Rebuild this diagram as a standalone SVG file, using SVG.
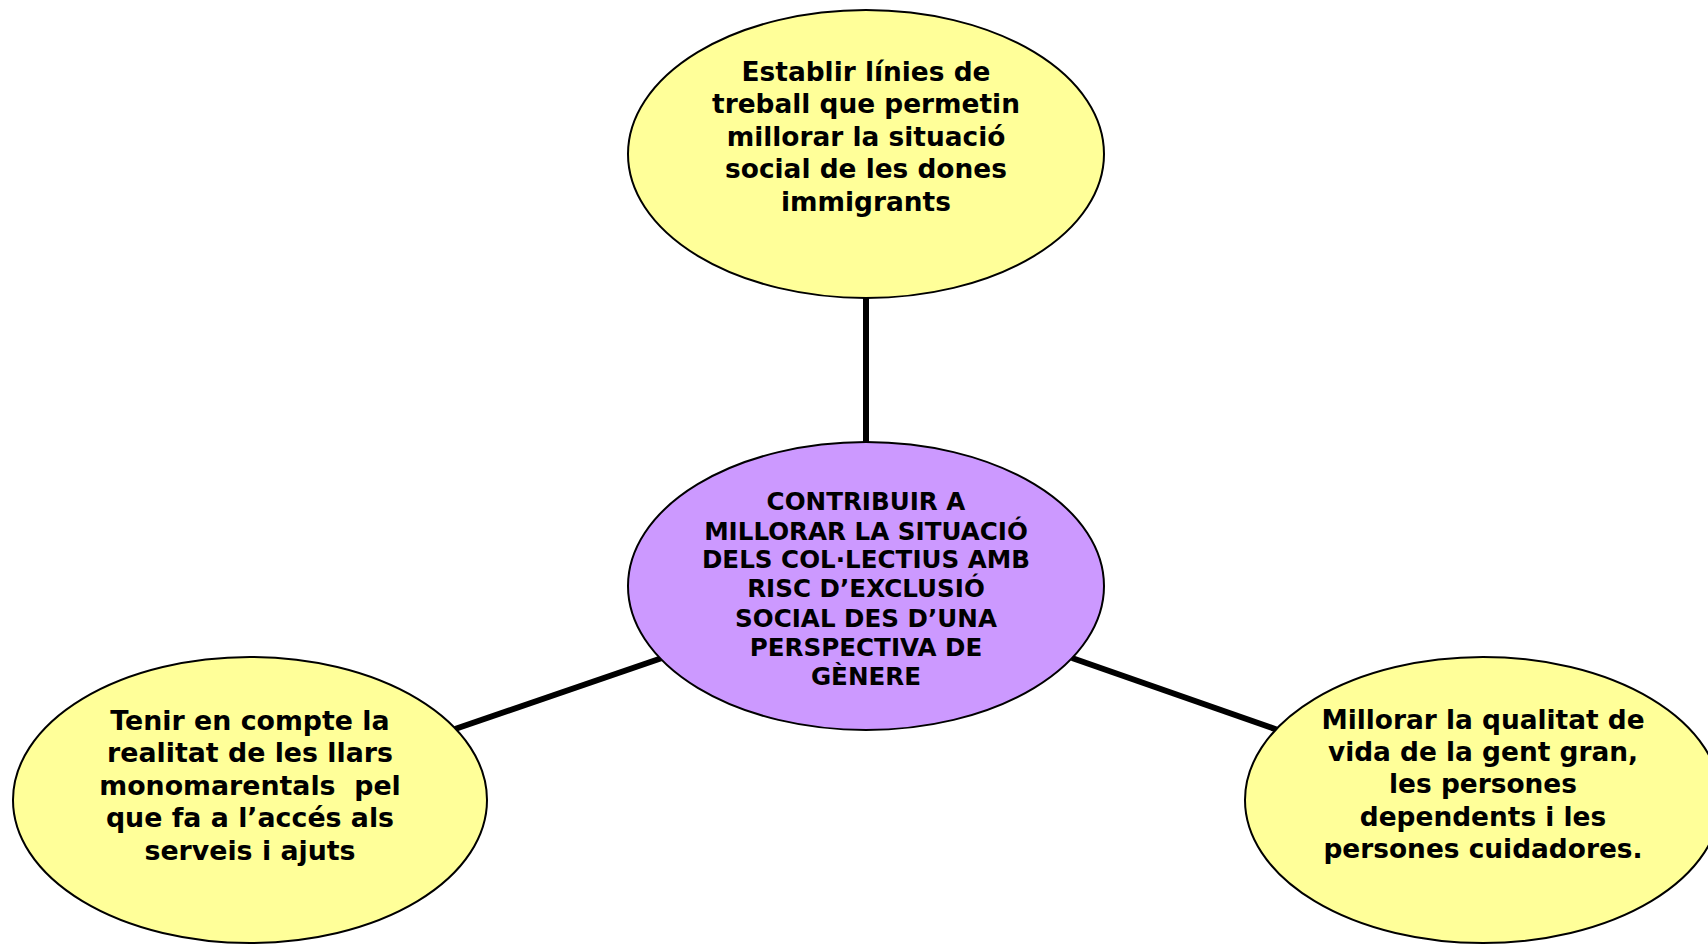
<svg xmlns="http://www.w3.org/2000/svg" width="1708" height="944" viewBox="0 0 1708 944">
<style>
.bg{fill:#ffffff}
.node{stroke:#000000;stroke-width:2}
.yellow{fill:#FFFF99}
.purple{fill:#CC99FF}
.conn{stroke:#000000;stroke-width:6;fill:none}
.t{font-family:"DejaVu Sans","Verdana",sans-serif;font-weight:bold;font-size:26.4px;fill:#000000;text-anchor:middle;white-space:pre}
.tl{font-size:26.8px}
.tc{font-size:24.6px}
</style>
<rect class="bg" x="0" y="0" width="1708" height="944"/>
<g id="connectors">
<line class="conn" x1="866" y1="298" x2="866" y2="444"/>
<line class="conn" x1="455" y1="729" x2="662" y2="658"/>
<line class="conn" x1="1072" y1="658" x2="1278" y2="730"/>
</g>
<g id="node-top">
<ellipse class="node yellow" cx="866" cy="154" rx="238" ry="144"/>
<text class="t" x="866" y="81">Establir línies de</text>
<text class="t" x="866" y="113.4">treball que permetin</text>
<text class="t" x="866" y="145.8">millorar la situació</text>
<text class="t" x="866" y="178.2">social de les dones</text>
<text class="t" x="866" y="210.6">immigrants</text>
</g>
<g id="node-center">
<ellipse class="node purple" cx="866" cy="586" rx="238" ry="144"/>
<text class="t tc" x="866" y="510">CONTRIBUIR A</text>
<text class="t tc" x="866" y="540">MILLORAR LA SITUACIÓ</text>
<text class="t tc" x="866" y="568">DELS COL·LECTIUS AMB</text>
<text class="t tc" x="866" y="597">RISC D’EXCLUSIÓ</text>
<text class="t tc" x="866" y="627">SOCIAL DES D’UNA</text>
<text class="t tc" x="866" y="656">PERSPECTIVA DE</text>
<text class="t tc" x="866" y="685">GÈNERE</text>
</g>
<g id="node-left">
<ellipse class="node yellow" cx="250" cy="800" rx="237" ry="143"/>
<text class="t tl" x="250" y="730">Tenir en compte la</text>
<text class="t tl" x="250" y="762.4">realitat de les llars</text>
<text class="t tl" x="250" y="794.8">monomarentals  pel</text>
<text class="t tl" x="250" y="827.2">que fa a l’accés als</text>
<text class="t tl" x="250" y="859.6">serveis i ajuts</text>
</g>
<g id="node-right">
<ellipse class="node yellow" cx="1483" cy="800" rx="238" ry="143"/>
<text class="t" x="1483" y="728.5">Millorar la qualitat de</text>
<text class="t" x="1483" y="760.9">vida de la gent gran,</text>
<text class="t" x="1483" y="793.3">les persones</text>
<text class="t" x="1483" y="825.7">dependents i les</text>
<text class="t" x="1483" y="858.1">persones cuidadores.</text>
</g>
</svg>
